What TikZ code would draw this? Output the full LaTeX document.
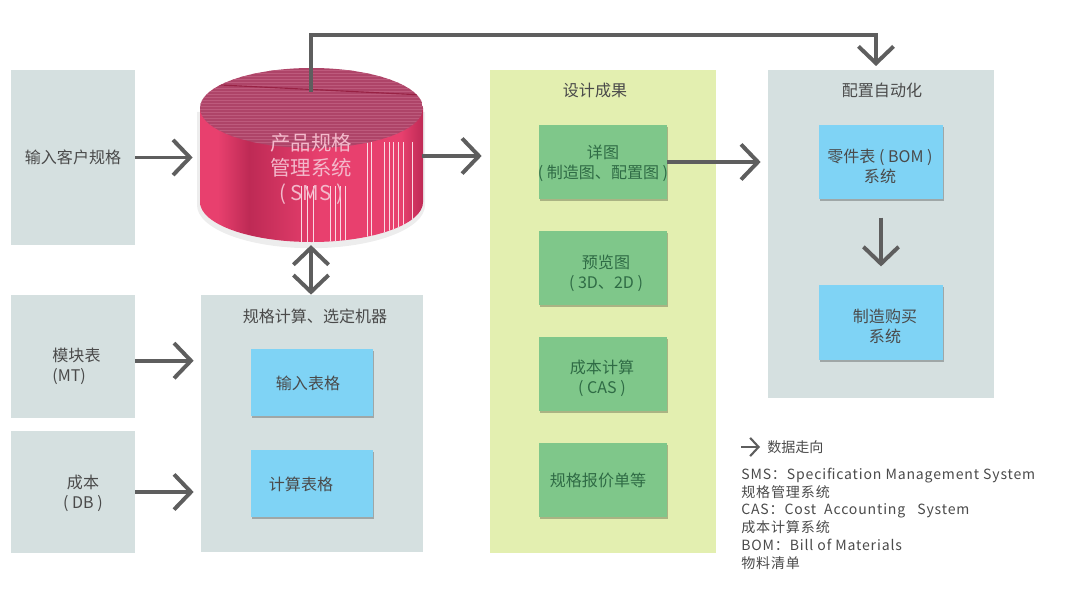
\documentclass[tikz,border=0pt]{standalone}
\usepackage{xcolor}
\usepackage{fontspec}
\setmainfont{Noto Sans CJK SC}
\newfontfamily\legendfont[LetterSpace=6]{Noto Sans CJK SC}
\usepackage{tikz}
\usetikzlibrary{positioning,calc,arrows.meta,shadows}
\definecolor{panelgray}{HTML}{D5E0E0}
\definecolor{panelgreen}{HTML}{E3EFB0}
\definecolor{boxgreen}{HTML}{7FC78A}
\definecolor{boxblue}{HTML}{7FD3F5}
\definecolor{flowgray}{HTML}{5E5E5E}
\definecolor{textgray}{HTML}{4A4A4A}
\definecolor{textgreen}{HTML}{2F6B45}
\definecolor{smstop}{HTML}{AE4468}
\definecolor{smsline}{HTML}{BD5A7C}
\definecolor{smsdark}{HTML}{BE2A55}
\definecolor{smslight}{HTML}{E8406E}
\definecolor{smstext}{HTML}{F3B9CB}
\pgfdeclarehorizontalshading{smsbody}{100bp}{color(0bp)=(smslight); color(25bp)=(smslight); color(29bp)=(smslight); color(36bp)=(smsdark); color(52bp)=(smslight); color(70bp)=(smslight); color(75bp)=(smsdark); color(100bp)=(smsdark)}

\begin{document}
\begin{tikzpicture}[
    x=0.025cm, y=-0.025cm,
    panel/.style={rectangle, fill=panelgray, inner sep=0pt},
    designpanel/.style={rectangle, fill=panelgreen, inner sep=0pt, minimum width=5.65cm, minimum height=12.075cm},
    bluebox/.style={rectangle, fill=boxblue, inner sep=0pt, drop shadow={shadow xshift=1pt, shadow yshift=-1.5pt, fill=black, opacity=0.25}},
    greenbox/.style={rectangle, fill=boxgreen, inner sep=0pt, minimum width=3.2cm, minimum height=1.85cm, drop shadow={shadow xshift=1pt, shadow yshift=-1.5pt, fill=black, opacity=0.25}},
    title/.style={text=textgray, inner sep=0pt, align=center, font=\fontsize{11.4}{14.2}\selectfont},
    greentext/.style={title, text=textgreen},
    flow/.style={-{Straight Barb[length=12pt,width=25pt]}, line width=2.8pt, flowgray}
]
    \useasboundingbox (0,0) rectangle (1080,596);

    % left column
    \node[panel, minimum width=3.1cm, minimum height=4.375cm] (input) at (73,157.5) {};
    \node[panel, minimum width=3.1cm, minimum height=3.075cm] (module) at (73,356.5) {};
    \node[panel, minimum width=3.1cm, minimum height=3.05cm] (cost) at (73,492) {};
    \node[title] (inputtext) at (73,157) {输入客户规格};
    \node[title, align=left] (moduletext) at (76.5,366) {模块表\\(MT)};
    \node[title] (costtext) at (83,493) {成本\\( DB )};

    % calculation panel
    \node[panel, minimum width=5.55cm, minimum height=6.425cm] (calc) at (312,423.5) {};
    \node[title] (calctext) at (315,316) {规格计算、选定机器};
    \node[bluebox, minimum width=3.05cm, minimum height=1.675cm] (form) at (312,382.5) {};
    \node[bluebox, minimum width=3.05cm, minimum height=1.675cm] (sheet) at (312,483.5) {};
    \node[title] (formtext) at (308,383) {输入表格};
    \node[title] (sheettext) at (301,484) {计算表格};

    % design panel
    \node[designpanel] (design) at (603,311.5) {};
    \node[title] (designtext) at (595,90) {设计成果};
    \node[greenbox] (detail) at (603,162) {};
    \node[greenbox] (preview) at (603,268) {};
    \node[greenbox] (costcalc) at (603,374) {};
    \node[greenbox] (quote) at (603,480) {};
    \node[greentext] (detailtext) at (603,163) {详图\\( 制造图、配置图 )};
    \node[greentext] (previewtext) at (606,273) {预览图\\( 3D、2D )};
    \node[greentext] (costcalctext) at (602,378) {成本计算\\( CAS )};
    \node[greentext] (quotetext) at (598,480) {规格报价单等};

    % config panel
    \node[panel, minimum width=5.65cm, minimum height=8.2cm] (config) at (881,234) {};
    \node[title] (configtext) at (882,90) {配置自动化};
    \node[bluebox, minimum width=3.1cm, minimum height=1.85cm] (bom) at (881,162) {};
    \node[bluebox, minimum width=3.1cm, minimum height=1.875cm] (buy) at (881,322.5) {};
    \node[title] (bomtext) at (880,166) {零件表 ( BOM )\\系统};
    \node[title] (buytext) at (885,326) {制造购买\\系统};

    % cylinder
    \fill[black, opacity=0.07] (197,112) -- (197,205) arc[start angle=180, end angle=360, x radius=2.85cm, y radius=1.08cm] -- (425,112) -- cycle;
    \begin{scope}
        \clip (200,108) -- (200,202) arc[start angle=180, end angle=360, x radius=2.7875cm, y radius=1cm] -- (423,108) -- cycle;
        \shade[shading=smsbody] (200,60) rectangle (423,245);
        \foreach \x in {367,371,384,389,393,398,403,412}
            \draw[white!80!smslight, line width=0.6pt] (\x,142) -- (\x,242);
        \foreach \x in {301,307,313,330,335,340,345}
            \draw[white!80!smslight, line width=0.6pt] (\x,186) -- (\x,242);
    \end{scope}
    \begin{scope}
        \clip (311.5,108) ellipse [x radius=2.7875cm, y radius=1cm];
        \fill[smstop] (200,60) rectangle (423,150);
        \foreach \y in {70,73,...,148}
            \draw[smsline, line width=0.3pt] (200,\y) -- (423,\y);
        \draw[smsdark!80!black, line width=0.8pt] (200,84) -- (423,95);
    \end{scope}
    \node[minimum width=5.55cm, minimum height=4.3cm, inner sep=0pt] (sms) at (311,156) {};
    \node[text=smstext, inner sep=0pt, align=center, font=\fontsize{14.5}{18}\selectfont] (smstitle) at (311,169) {产品规格\\管理系统\\( SMS )};
    \coordinate (smsin) at (311,92);
    \coordinate (configin) at (876,66);

    % connectors
    \draw[flow, shorten >=5pt] (input) -- (input -| sms.west);
    \draw[flow, shorten >=5.7pt] (sms.east) -- (sms.east -| design.west);
    \draw[flow, shorten >=5pt] (detail.east) -- (detail.east -| config.west);
    \draw[flow] (smsin) -- ++(0,-57) -| (configin);
    \draw[flow, {Straight Barb[length=12pt,width=25pt]}-{Straight Barb[length=12pt,width=25pt]}, shorten <=2pt] (sms.south) -- (sms.south |- calc.north);
    \draw[flow, shorten >=5pt] ([yshift=-3pt]module.east) -- ([yshift=-3pt]module.east -| calc.west);
    \draw[flow, shorten >=5pt] (cost.east) -- (cost.east -| calc.west);
    \draw[flow, shorten <=13pt, shorten >=13pt] (bom) -- (buy);

    % legend
    \coordinate (legendfrom) at (741,447);
    \coordinate (legendto) at (760,447);
    \draw[-{Straight Barb[length=6pt,width=13pt]}, line width=1.5pt, flowgray] (legendfrom) -- (legendto);
    \node[title, anchor=west, font=\fontsize{10}{12}\selectfont] (legendtitle) at (767,447) {数据走向};
    \node[inner sep=0pt, anchor=north west, align=left, text=textgray, font=\fontsize{10}{12.7}\legendfont] (legend) at (741,467.5) {SMS：Specification Management System\\规格管理系统\\CAS：Cost\ \ Accounting\ \ \ System\\成本计算系统\\BOM：Bill of Materials\\物料清单};
\end{tikzpicture}
\end{document}
